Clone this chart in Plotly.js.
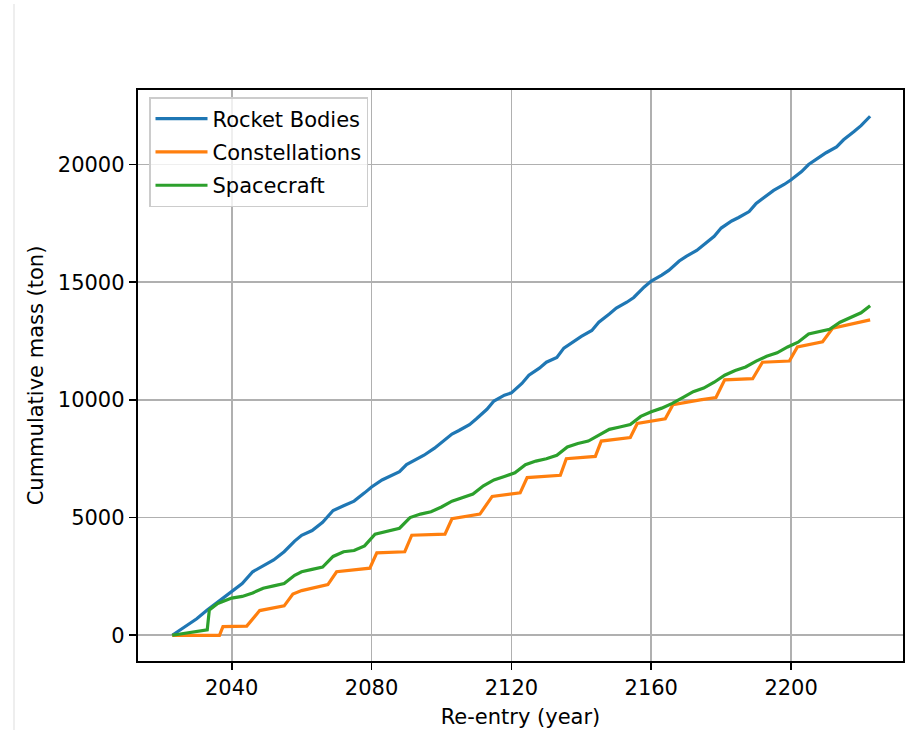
<!DOCTYPE html>
<html>
<head>
<meta charset="utf-8">
<script src="https://cdn.plot.ly/plotly-3.0.1.min.js"></script>
<style>
  html, body { margin: 0; padding: 0; background: #ffffff; }
  #chart { width: 905px; height: 730px; }
</style>
</head>
<body>
<div id="chart"></div>
<script>
// Rocket Bodies (cumulative mass, ton)
const rocketYears = [2023, 2026, 2030, 2033, 2036, 2040, 2043, 2046, 2049, 2052, 2055, 2058, 2060, 2063, 2066, 2069, 2072, 2075, 2078, 2080,
  2083, 2085, 2088, 2090, 2093, 2095, 2098, 2100, 2103, 2105, 2108, 2110, 2113, 2115, 2118, 2120, 2123, 2125, 2128, 2130,
  2133, 2135, 2138, 2140, 2143, 2145, 2148, 2150, 2153, 2155, 2158, 2160, 2163, 2165, 2168, 2170, 2173, 2175, 2178, 2180,
  2183, 2185, 2188, 2190, 2193, 2195, 2198, 2200, 2203, 2205, 2208, 2210, 2213, 2215, 2218, 2220, 2222.6];
const rocketMass = [0, 300, 700, 1070, 1400, 1850, 2200, 2700, 2950, 3200, 3550, 4000, 4250, 4450, 4800, 5300, 5500, 5700, 6050, 6300,
  6600, 6750, 6950, 7250, 7500, 7650, 7950, 8200, 8550, 8700, 8950, 9200, 9600, 9950, 10200, 10300, 10700, 11050, 11350, 11600,
  11800, 12200, 12500, 12700, 12950, 13300, 13650, 13900, 14150, 14350, 14800, 15050, 15300, 15500, 15900, 16100, 16350, 16600, 16950, 17300,
  17600, 17750, 18000, 18350, 18700, 18900, 19150, 19350, 19700, 20000, 20300, 20500, 20750, 21050, 21400, 21650, 22050];

// Constellations
const constYears = [2023, 2036.5, 2037.5, 2044.3, 2048, 2055, 2057.5, 2060, 2067.5, 2070, 2079.5, 2081.5, 2089.5, 2091.5, 2101, 2103,
  2111, 2114.5, 2122.5, 2124.5, 2134, 2135.7, 2144, 2145.7, 2154, 2156, 2164, 2166.2, 2174, 2178.5, 2181, 2189, 2191.8,
  2199.5, 2201.8, 2209, 2211.9, 2222.6];
const constMass = [0, 0, 370, 390, 1050, 1250, 1750, 1900, 2150, 2700, 2850, 3500, 3550, 4250, 4300, 4950,
  5150, 5900, 6050, 6700, 6800, 7500, 7600, 8250, 8400, 9000, 9200, 9800, 10000, 10100, 10850, 10900, 11600,
  11650, 12250, 12470, 13050, 13400];

// Spacecraft
const scYears = [2023, 2026, 2030, 2033, 2033.6, 2036, 2040, 2043, 2046, 2049, 2052, 2055, 2058, 2060, 2063, 2066, 2069, 2072, 2075, 2078,
  2081, 2084, 2088, 2091, 2094, 2097, 2100, 2103, 2106, 2109, 2112, 2115, 2118, 2121, 2124, 2127, 2130, 2133, 2136, 2139,
  2142, 2145, 2148, 2151, 2154, 2157, 2160, 2163, 2166, 2169, 2172, 2175, 2178, 2181, 2184, 2187, 2190, 2193, 2196, 2199,
  2202, 2205, 2208, 2211, 2214, 2217, 2220, 2222.6];
const scMass = [0, 60, 150, 230, 1080, 1350, 1580, 1650, 1800, 2000, 2100, 2200, 2550, 2700, 2800, 2900, 3350, 3550, 3600, 3800,
  4300, 4400, 4550, 5000, 5150, 5250, 5450, 5700, 5850, 6000, 6350, 6600, 6750, 6900, 7250, 7400, 7500, 7650, 8000, 8150,
  8250, 8500, 8750, 8850, 8950, 9300, 9500, 9650, 9850, 10100, 10350, 10500, 10750, 11050, 11250, 11400, 11650, 11850, 12000, 12250,
  12450, 12800, 12900, 13000, 13300, 13500, 13700, 14000];

const xTicks = [2040, 2080, 2120, 2160, 2200];
const yTicks = [0, 5000, 10000, 15000, 20000];
const seriesNames = ['Rocket Bodies', 'Constellations', 'Spacecraft'];
const seriesColors = ['#1f77b4', '#ff7f0e', '#2ca02c'];

const FONT = 'DejaVu Sans, Verdana, sans-serif';
const traces = [
  {x: rocketYears, y: rocketMass},
  {x: constYears, y: constMass},
  {x: scYears, y: scMass}
].map((d, i) => ({
  x: d.x, y: d.y, type: 'scatter', mode: 'lines', name: seriesNames[i],
  legendgroup: 'g' + i,
  line: {color: seriesColors[i], width: 3.2}
}));

const L = 138, R = 903, T = 90, B = 661, W = 905, H = 730;
const axisCommon = {
  showgrid: true, gridcolor: '#b0b0b0', gridwidth: 1.6,
  showline: true, linecolor: '#000000', linewidth: 1.7, mirror: true,
  ticks: 'outside', ticklen: 7.5, tickwidth: 1.6, tickcolor: '#000000',
  tickfont: {family: FONT, size: 21, color: '#000000'},
  zeroline: false, fixedrange: true
};

const layout = {
  width: W, height: H,
  margin: {l: L, r: W - R, t: T, b: H - B, pad: 0},
  paper_bgcolor: '#ffffff', plot_bgcolor: '#ffffff',
  font: {family: FONT, color: '#000000'},
  showlegend: true,
  legend: {
    x: (149 - L) / (R - L), y: (B - 97) / (B - T), xanchor: 'left', yanchor: 'top',
    bgcolor: 'rgba(255,255,255,0.8)', bordercolor: '#cccccc', borderwidth: 1.5,
    itemwidth: 52, tracegroupgap: 3, traceorder: 'grouped',
    font: {family: FONT, size: 21, color: '#000000'}
  },
  xaxis: Object.assign({}, axisCommon, {
    range: [2013.2, 2232.0], tickmode: 'array', tickvals: xTicks,
    ticktext: xTicks.map(String),
    title: {text: 'Re-entry (year)', font: {family: FONT, size: 21, color: '#000000'}, standoff: 10}
  }),
  yaxis: Object.assign({}, axisCommon, {
    range: [-1092, 23165], tickmode: 'array', tickvals: yTicks,
    ticktext: yTicks.map(String),
    title: {text: 'Cummulative mass (ton)', font: {family: FONT, size: 21, color: '#000000'}, standoff: 8}
  }),
  shapes: [{
    type: 'line', xref: 'paper', yref: 'paper',
    x0: (14 - L) / (R - L), x1: (14 - L) / (R - L),
    y0: (B - 4) / (B - T), y1: (B - H) / (B - T),
    line: {color: '#dddddd', width: 1}
  }]
};

Plotly.newPlot('chart', traces, layout, {displayModeBar: false, staticPlot: true});
</script>
</body>
</html>
